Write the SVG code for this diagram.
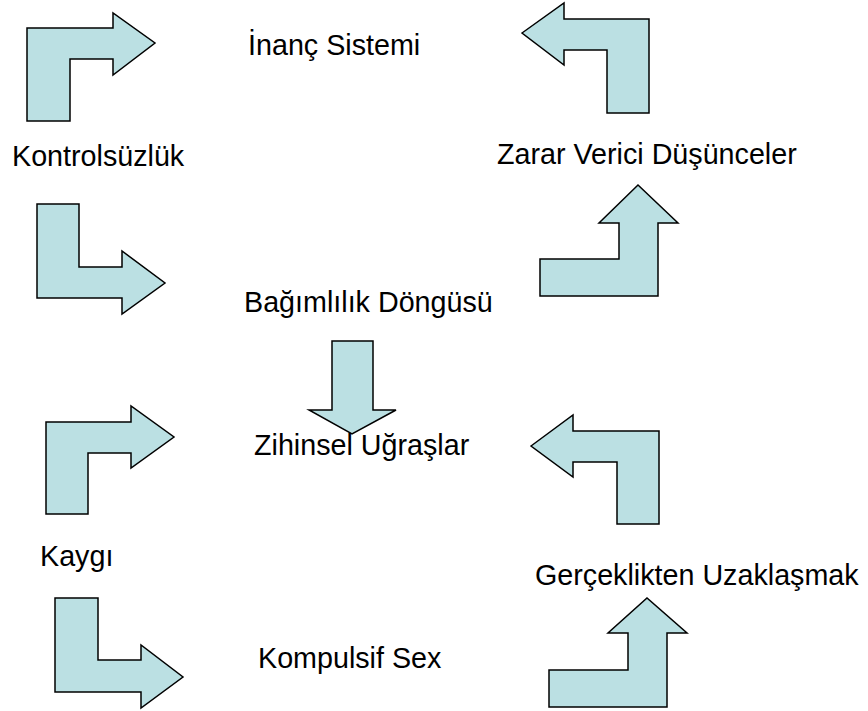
<svg xmlns="http://www.w3.org/2000/svg" width="868" height="711" viewBox="0 0 868 711">
<style>
.a{fill:#BBE0E3;stroke:#000;stroke-width:1.5;stroke-linejoin:miter}
.t{font-family:"Liberation Sans",Arial,sans-serif;font-size:28.7px;fill:#000}
</style>
<rect width="868" height="711" fill="#fff"/>
<g id="connectors">
<polygon class="a" points="27,121 27,28 113,28 113,13 155,43 113,75 113,59 70,59 70,121"/>
<polygon class="a" points="522,33 564,3 564,19 649,19 649,113 607,113 607,50 564,50 564,65"/>
<polygon class="a" points="37,204 79,204 79,267 122,267 122,251 165,283 122,314 122,298 37,298"/>
<polygon class="a" points="540,259 619,259 619,223 599,223 638,185 678,223 658,223 658,296 540,296"/>
<polygon class="a" points="332,341 373,341 373,410 396,410 352,434 309,410 332,410"/>
<polygon class="a" points="46,514 46,422 131,422 131,406 174,437 131,468 131,453 88,453 88,514"/>
<polygon class="a" points="531,446 573,415 573,431 659,431 659,524 617,524 617,462 573,462 573,477"/>
<polygon class="a" points="55,598 98,598 98,660 141,660 141,645 183,677 141,708 141,692 55,692"/>
<polygon class="a" points="549,670 628,670 628,633 608,633 647,598 687,633 667,633 667,707 549,707"/>
</g>
<g id="n1"><text class="t" x="248" y="55">İnanç Sistemi</text></g>
<g id="n2"><text class="t" x="12" y="166">Kontrolsüzlük</text></g>
<g id="n3"><text class="t" x="497" y="164">Zarar Verici Düşünceler</text></g>
<g id="n4"><text class="t" x="244" y="312">Bağımlılık Döngüsü</text></g>
<g id="n5"><text class="t" x="254" y="455">Zihinsel Uğraşlar</text></g>
<g id="n6"><text class="t" x="40" y="566">Kaygı</text></g>
<g id="n7"><text class="t" x="535" y="585">Gerçeklikten Uzaklaşmak</text></g>
<g id="n8"><text class="t" x="258" y="668">Kompulsif Sex</text></g>
</svg>
